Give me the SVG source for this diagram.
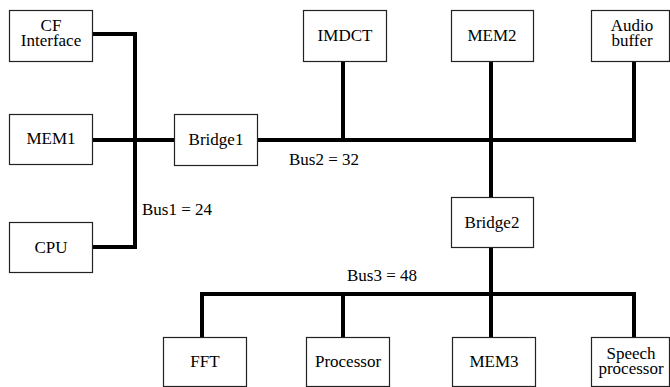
<svg xmlns="http://www.w3.org/2000/svg" width="670" height="387" viewBox="0 0 670 387">
<style>
.box{fill:#fff;stroke:#222;stroke-width:1.2}
.bus{fill:none;stroke:#000;stroke-width:4;stroke-linejoin:miter;stroke-linecap:butt}
text{font-size:17px;fill:#000}
.c{text-anchor:middle}
</style>
<rect width="670" height="387" fill="#fff"/>
<g id="connectors">
<polyline class="bus" points="92,34 135,34 135,247 92,247"/>
<line class="bus" x1="92" y1="140" x2="174" y2="140"/>
<polyline class="bus" points="257,140 634,140 634,61"/>
<line class="bus" x1="343" y1="61" x2="343" y2="140"/>
<line class="bus" x1="491" y1="61" x2="491" y2="197"/>
<line class="bus" x1="491" y1="247" x2="491" y2="337"/>
<polyline class="bus" points="202,337 202,294 634,294 634,337"/>
<line class="bus" x1="343" y1="294" x2="343" y2="337"/>
</g>
<g font-family="Liberation Serif, Times New Roman, serif">
<g id="cf"><rect class="box" x="9.5" y="10.5" width="83" height="51"/><text class="c" x="51" y="31">CF<tspan x="51" dy="14.5">Interface</tspan></text></g>
<g id="mem1"><rect class="box" x="9.5" y="114.5" width="83" height="50"/><text class="c" x="51" y="144">MEM1</text></g>
<g id="cpu"><rect class="box" x="9.5" y="222.5" width="83" height="50"/><text class="c" x="51" y="253">CPU</text></g>
<g id="bridge1"><rect class="box" x="174.5" y="114.5" width="83" height="51"/><text class="c" x="216" y="145">Bridge1</text></g>
<g id="imdct"><rect class="box" x="303.5" y="10.5" width="83" height="51"/><text class="c" x="345" y="41">IMDCT</text></g>
<g id="mem2"><rect class="box" x="451.5" y="10.5" width="82" height="51"/><text class="c" x="492" y="41">MEM2</text></g>
<g id="audio"><rect class="box" x="591.5" y="10.5" width="78" height="51"/><text class="c" x="632" y="31">Audio<tspan x="632" dy="14.5">buffer</tspan></text></g>
<g id="bridge2"><rect class="box" x="451.5" y="197.5" width="82" height="50"/><text class="c" x="492" y="228">Bridge2</text></g>
<g id="fft"><rect class="box" x="163.5" y="337.5" width="83" height="49"/><text class="c" x="205" y="367">FFT</text></g>
<g id="processor"><rect class="box" x="306.5" y="337.5" width="83" height="49"/><text class="c" x="348" y="367">Processor</text></g>
<g id="mem3"><rect class="box" x="452.5" y="337.5" width="83" height="49"/><text class="c" x="494" y="367">MEM3</text></g>
<g id="speech"><rect class="box" x="591.5" y="337.5" width="78" height="49"/><text class="c" x="631" y="359">Speech<tspan x="631" dy="14.5">processor</tspan></text></g>
<g id="labels">
<text x="142" y="215">Bus1 = 24</text>
<text x="289" y="165">Bus2 = 32</text>
<text x="347" y="281">Bus3 = 48</text>
</g>
</g>
</svg>
